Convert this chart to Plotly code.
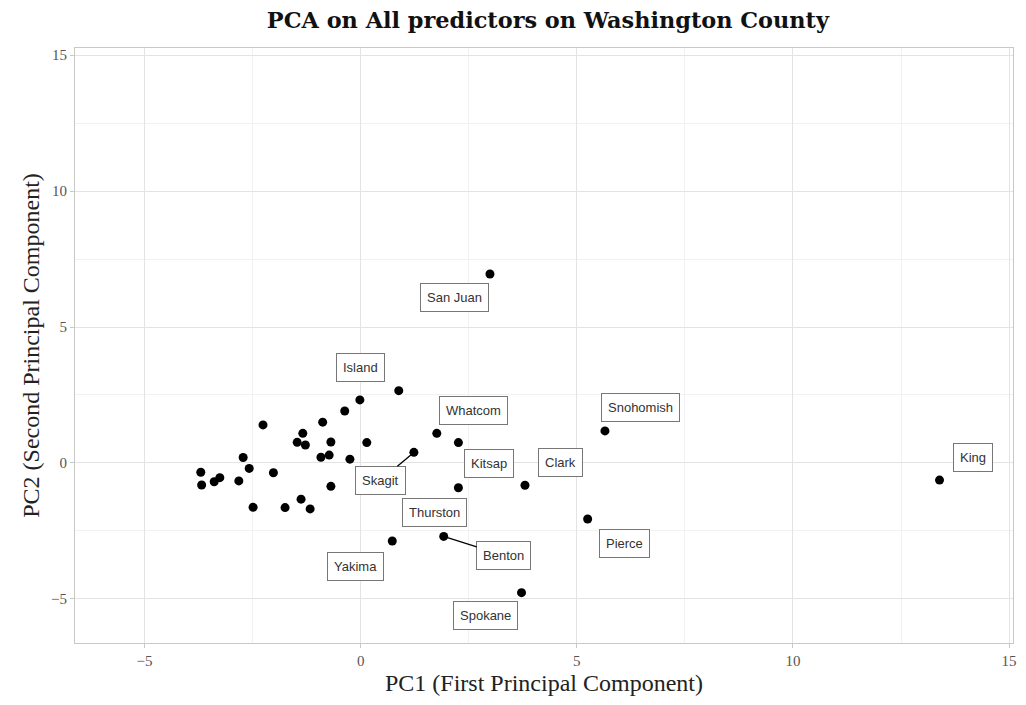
import plotly.graph_objects as go

# PCA scores for Washington counties (PC1, PC2)
pc1 = [2.99, 0.88, -0.02, -0.37, -0.88, 1.76, 2.26, 1.23, 0.14, -0.25,
       -0.69, -0.92, -0.73, -0.69, 2.26, 3.80, -2.26, -1.34, -1.47, -1.28,
       -2.72, -2.58, -2.02, -3.70, -3.68, -3.39, -3.26, -2.82, -2.49, -1.75,
       -1.38, -1.17, 1.92, 0.73, 5.25, 3.72, 5.65, 13.39]
pc2 = [6.95, 2.66, 2.32, 1.91, 1.50, 1.09, 0.75, 0.39, 0.75, 0.14,
       0.77, 0.21, 0.29, -0.86, -0.91, -0.82, 1.40, 1.09, 0.76, 0.66,
       0.20, -0.20, -0.36, -0.34, -0.81, -0.69, -0.54, -0.66, -1.63, -1.64,
       -1.33, -1.69, -2.70, -2.87, -2.06, -4.77, 1.18, -0.63]

# Labelled counties: name, PC1, PC2
label_names = ["San Juan", "Island", "Whatcom", "Kitsap", "Skagit", "Thurston",
               "Clark", "Benton", "Yakima", "Pierce", "Spokane", "Snohomish", "King"]
label_pc1 = [2.99, 0.88, 1.76, 2.26, 1.23, 2.26, 3.80, 1.92, 0.73, 5.25, 3.72, 5.65, 13.39]
label_pc2 = [6.95, 2.66, 1.09, 0.75, 0.39, -0.91, -0.82, -2.70, -2.87, -2.06, -4.77, 1.18, -0.63]

# label placement offsets (pixels) and whether a leader segment is shown
label_dx = [-35, -38, 37, 31, -33, -24, 36, 60, -37, 37, -36, 36, 33]
label_dy = [24, -23, -23, 21, 28, 25, -23, 19, 25, 24, 23, -23, -23]
label_seg = [False, False, False, False, True, False, False, True, False, False, False, False, False]

fig = go.Figure()
fig.add_trace(go.Scatter(
    x=pc1, y=pc2, mode="markers",
    marker=dict(color="black", size=9, line=dict(width=0)),
    showlegend=False, hoverinfo="x+y",
))

for name, x, y, dx, dy, seg in zip(label_names, label_pc1, label_pc2,
                                   label_dx, label_dy, label_seg):
    fig.add_annotation(
        x=x, y=y, ax=dx, ay=dy, axref="pixel", ayref="pixel",
        text=name, showarrow=True, arrowhead=0, arrowwidth=1.3,
        arrowcolor="black" if seg else "rgba(0,0,0,0)",
        standoff=4,
        font=dict(family="Liberation Sans, Arial, sans-serif", size=13, color="#333333"),
        bgcolor="white", bordercolor="#777777", borderwidth=1, borderpad=6,
    )

axis_common = dict(
    showgrid=True, gridcolor="#e3e3e3", gridwidth=1,
    minor=dict(showgrid=True, dtick=2.5, gridcolor="#f1f1f1", gridwidth=0.8),
    zeroline=False, showline=True, linecolor="#c8c8c8", linewidth=1, mirror=True,
    ticks="outside", ticklen=4, tickcolor="#c8c8c8",
    tickfont=dict(family="Liberation Serif, Times New Roman, serif", size=15, color="#555555"),
    dtick=5, tick0=0,
)

fig.update_layout(
    width=1026, height=705,
    margin=dict(l=75, r=9, t=48, b=62),
    paper_bgcolor="white", plot_bgcolor="white",
    title=dict(
        text="<b>PCA on All predictors on Washington County</b>",
        x=0.534, xanchor="center", y=0.972, yanchor="middle",
        font=dict(family="DejaVu Serif, serif", size=22.4, color="#111111"),
    ),
    xaxis=dict(range=[-6.61, 15.09], **axis_common,
               title=dict(text="PC1 (First Principal Component)", standoff=6,
                          font=dict(family="Liberation Serif, Times New Roman, serif", size=24, color="#222222"))),
    yaxis=dict(range=[-6.62, 15.26], **axis_common,
               title=dict(text="PC2 (Second Principal Component)", standoff=4,
                          font=dict(family="Liberation Serif, Times New Roman, serif", size=24, color="#222222"))),
)

fig.write_html("out.html")
